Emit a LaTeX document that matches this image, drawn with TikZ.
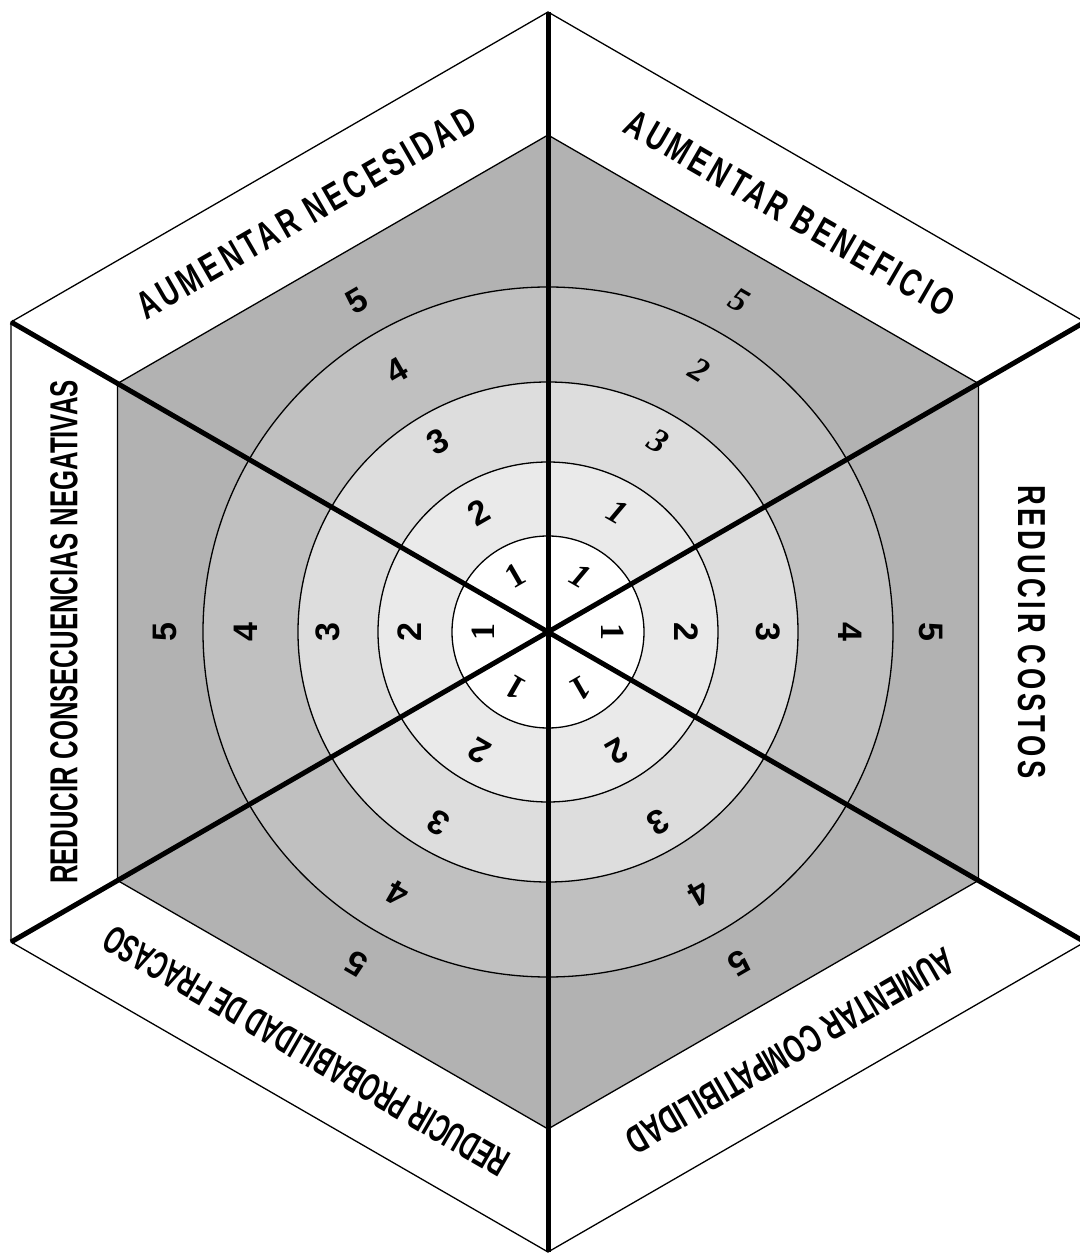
\documentclass[tikz,border=0pt]{standalone}
\usepackage{fontspec}
\setmainfont{Liberation Sans}
\newfontfamily\numserif{Liberation Serif}
\newfontfamily\bandA{Liberation Sans}[FakeStretch=0.70, LetterSpace=10]
\newfontfamily\bandB{Liberation Sans}[FakeStretch=0.66]
\newfontfamily\bandC{Liberation Sans}[FakeStretch=0.61]
\definecolor{ringB}{HTML}{EAEAEA}
\definecolor{ringC}{HTML}{DDDDDD}
\definecolor{ringD}{HTML}{C0C0C0}
\definecolor{ringE}{HTML}{B2B2B2}

\begin{document}
\begin{tikzpicture}[x=1pt, y=1pt,
    thinline/.style={line width=1.3pt},
    spoke/.style={line width=5pt},
    band/.style={font=\fontsize{39}{39}\selectfont\bfseries, inner sep=0pt},
    num/.style={font=\fontsize{34}{34}\selectfont\bfseries, inner sep=0pt}]
    \useasboundingbox (-548,-623) rectangle (531,632);
    \coordinate (O) at (0,0);
    % hexagons
    \draw[thinline, fill=white] (90:620) -- (30:620) -- (-30:620) -- (-90:620) -- (-150:620) -- (150:620) -- cycle;
    \draw[thinline, fill=ringE] (90:497) -- (30:497) -- (-30:497) -- (-90:497) -- (-150:497) -- (150:497) -- cycle;
    % rings
    \foreach \r/\c in {345/ringD, 250/ringC, 170/ringB, 96/white}
        \draw[thinline, fill=\c] (O) circle (\r);
    \foreach \a [count=\i] in {90,30,-30,-90,-150,150}
        \draw[spoke] (O) -- (\a:620) coordinate (v\i);
    % band labels
    \foreach \a/\f/\txt [count=\i, evaluate=\a as \rot using \a-90] in
        {120/\bandA/AUMENTAR NECESIDAD, 60/\bandA/AUMENTAR BENEFICIO,
         0/\bandA/REDUCIR COSTOS, -60/\bandB/AUMENTAR COMPATIBILIDAD,
         -120/\bandC/REDUCIR PROBABILIDAD DE FRACASO, 180/\bandB/REDUCIR CONSECUENCIAS NEGATIVAS}
        \node[band, rotate=\rot] (lbl\i) at (\a:484) {\f\txt};
    % ring numbers
    \foreach \a/\da/\db/\dc/\dd/\de [count=\j, evaluate=\a as \rot using \a-90] in
        {120/1/2/3/4/5, 0/1/2/3/4/5, -60/1/2/3/4/5, -120/1/2/3/4/5, 180/1/2/3/4/5}
        \foreach \r/\d [count=\k] in {65/\da, 138/\db, 220/\dc, 302/\dd, 383/\de}
            \node[num, rotate=\rot] (s\j r\k) at (\a:\r) {\ifnum\k=1 \numserif\fi\d};
    \foreach \r/\d [count=\k] in {65/1, 138/1, 220/3, 302/2, 383/5}
        \node[num, rotate=-30] (s6r\k) at (60:\r) {\numserif\itshape\d};
\end{tikzpicture}
\end{document}
